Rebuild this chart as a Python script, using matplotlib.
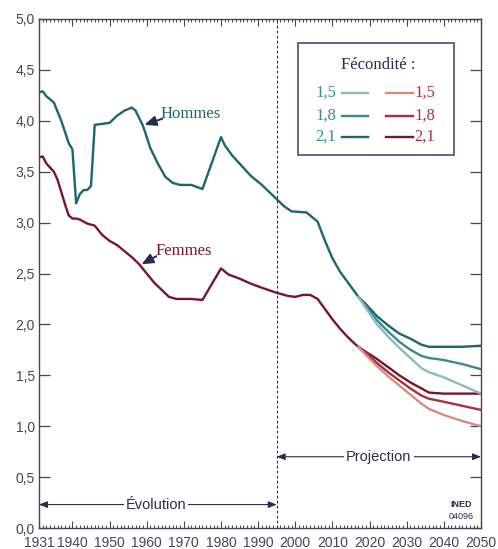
import matplotlib
matplotlib.use("Agg")
import matplotlib.pyplot as plt
from matplotlib.ticker import FixedLocator, MultipleLocator, FuncFormatter
from matplotlib.lines import Line2D
from matplotlib.patches import Rectangle

# Observed period (both sexes follow one path until the scenarios split)
years_h = [1931, 1932, 1933, 1935, 1937, 1939, 1940, 1941, 1942, 1943, 1944, 1945,
           1946, 1948, 1950, 1952, 1954, 1956, 1957, 1959, 1961, 1963, 1965, 1967,
           1969, 1972, 1975, 1980, 1981, 1983, 1986, 1988, 1991, 1995, 1997, 1999,
           2003, 2006, 2008, 2010, 2012, 2014, 2016, 2017]
hommes = [4.28, 4.29, 4.24, 4.18, 4.00, 3.78, 3.72, 3.19, 3.28, 3.32, 3.32, 3.36,
          3.96, 3.97, 3.98, 4.05, 4.10, 4.13, 4.10, 3.95, 3.73, 3.58, 3.45, 3.39,
          3.37, 3.37, 3.33, 3.84, 3.76, 3.66, 3.54, 3.46, 3.37, 3.23, 3.16, 3.11,
          3.10, 3.01, 2.82, 2.65, 2.52, 2.42, 2.32, 2.27]

years_f = [1931, 1932, 1933, 1935, 1936, 1937, 1938, 1939, 1940, 1941, 1942, 1944,
           1946, 1948, 1950, 1952, 1954, 1956, 1958, 1960, 1962, 1964, 1966, 1968,
           1972, 1975, 1980, 1982, 1985, 1988, 1991, 1995, 1998, 2000, 2002, 2004,
           2006, 2008, 2010, 2012, 2014, 2016, 2017]
femmes = [3.64, 3.65, 3.58, 3.50, 3.42, 3.30, 3.18, 3.07, 3.04, 3.04, 3.03, 2.99,
          2.97, 2.88, 2.82, 2.78, 2.72, 2.66, 2.59, 2.50, 2.41, 2.34, 2.27, 2.25,
          2.25, 2.24, 2.55, 2.49, 2.45, 2.40, 2.36, 2.31, 2.28, 2.27, 2.29, 2.29,
          2.25, 2.15, 2.05, 1.96, 1.88, 1.81, 1.78]

# Projection scenarios by fertility level
years_proj = [2017, 2019, 2022, 2025, 2028, 2031, 2034, 2036, 2040, 2045, 2050]
fecondite = ["1,5", "1,8", "2,1"]
hommes_proj = {
    "1,5": [2.27, 2.16, 2.00, 1.88, 1.77, 1.67, 1.57, 1.53, 1.48, 1.40, 1.32],
    "1,8": [2.27, 2.18, 2.04, 1.93, 1.83, 1.75, 1.69, 1.67, 1.65, 1.61, 1.56],
    "2,1": [2.27, 2.20, 2.08, 1.99, 1.91, 1.86, 1.80, 1.78, 1.78, 1.78, 1.79],
}
femmes_proj = {
    "1,5": [1.78, 1.70, 1.59, 1.49, 1.40, 1.31, 1.22, 1.17, 1.11, 1.05, 1.00],
    "1,8": [1.78, 1.72, 1.62, 1.53, 1.45, 1.37, 1.30, 1.27, 1.24, 1.20, 1.16],
    "2,1": [1.78, 1.73, 1.66, 1.58, 1.50, 1.43, 1.37, 1.33, 1.32, 1.32, 1.32],
}

xticks = [1931, 1940, 1950, 1960, 1970, 1980, 1990, 2000, 2010, 2020, 2030, 2040, 2050]

teal = {"1,5": "#8dbabd", "1,8": "#3a8a91", "2,1": "#1d6670"}
red = {"1,5": "#d38e7e", "1,8": "#a8313b", "2,1": "#7a1530"}
navy = "#2b2b52"
axis_col = "#44445f"

fig = plt.figure(figsize=(4.98, 5.49), dpi=100)
ax = fig.add_axes([39 / 498, 1 - 528 / 549, 442 / 498, 509 / 549])

ax.plot(years_h, hommes, color=teal["2,1"], lw=1.7, solid_joinstyle="round")
ax.plot(years_f, femmes, color=red["2,1"], lw=1.7, solid_joinstyle="round")
for k in ["2,1", "1,8", "1,5"]:
    ax.plot(years_proj, hommes_proj[k], color=teal[k], lw=1.7)
    ax.plot(years_proj, femmes_proj[k], color=red[k], lw=1.7)

ax.set_xlim(1931, 2050)
ax.set_ylim(0, 5)

# axes styling
for s in ax.spines.values():
    s.set_color(axis_col)
    s.set_linewidth(1.0)
ax.xaxis.set_major_locator(FixedLocator(xticks))
ax.xaxis.set_minor_locator(MultipleLocator(1))
ax.yaxis.set_major_locator(MultipleLocator(0.5))
ax.yaxis.set_major_formatter(FuncFormatter(lambda v, p: f"{v:.1f}".replace(".", ",")))
ax.tick_params(axis="x", which="major", direction="in", top=True, length=5, width=0.8,
               color=axis_col, labelcolor=axis_col, labelsize=10, pad=6)
ax.tick_params(axis="x", which="minor", direction="in", top=True, length=2.5, width=0.7,
               color=axis_col)
ax.tick_params(axis="y", which="major", direction="in", right=True, length=8, width=0.9,
               color=axis_col, labelcolor=axis_col, labelsize=10, pad=3)
for lab in ax.get_xticklabels() + ax.get_yticklabels():
    lab.set_family("Liberation Sans")

# boundary between observed and projected
ax.axvline(1995, color=navy, lw=0.8, ls=(0, (2.5, 2)))

# period arrows
arrow_kw = dict(arrowstyle="<|-|>,head_length=0.5,head_width=0.2", color=navy, lw=0.8,
                shrinkA=0, shrinkB=0)
ax.annotate("", xy=(1931, 0.23), xytext=(1995, 0.23), arrowprops=arrow_kw)
ax.annotate("", xy=(1995, 0.70), xytext=(2050, 0.70), arrowprops=arrow_kw)
ax.text(1962.5, 0.23, "Évolution", ha="center", va="center", fontsize=10.5,
        family="Liberation Sans", color=navy,
        bbox=dict(facecolor="white", edgecolor="none", pad=1.5))
ax.text(2022.5, 0.70, "Projection", ha="center", va="center", fontsize=10.5,
        family="Liberation Sans", color=navy,
        bbox=dict(facecolor="white", edgecolor="none", pad=1.5))

# curve labels
lab_arrow = dict(arrowstyle="-|>,head_length=0.7,head_width=0.3", color=navy, lw=1.4,
                 shrinkA=0, shrinkB=0)
ax.annotate("", xy=(1959.4, 3.96), xytext=(1964.2, 4.02), arrowprops=lab_arrow)
ax.text(1963.6, 4.07, "Hommes", ha="left", va="center", fontsize=12,
        family="Liberation Serif", color=teal["2,1"])
ax.annotate("", xy=(1958.6, 2.59), xytext=(1962.6, 2.67), arrowprops=lab_arrow)
ax.text(1962.4, 2.72, "Femmes", ha="left", va="center", fontsize=12,
        family="Liberation Serif", color=red["2,1"])

# legend box
ax.add_patch(Rectangle((0.5867, 0.7328), 0.3522, 0.2195, transform=ax.transAxes,
                       facecolor="white", edgecolor="#5c5c7a", lw=1.3, zorder=5))
ax.text(0.7676, 0.9096, "Fécondité :", transform=ax.transAxes, ha="center", va="center",
        fontsize=12, family="Liberation Serif", color=navy, zorder=6)
rows_y = [0.8552, 0.8100, 0.7688]
for k, yy in zip(fecondite, rows_y):
    ax.text(0.6719, yy, k, transform=ax.transAxes, ha="right", va="center",
            fontsize=12, family="Liberation Serif", color=teal["1,8"], zorder=6)
    ax.add_line(Line2D([0.6848, 0.7450], [yy, yy], transform=ax.transAxes,
                       color=teal[k], lw=1.7, zorder=6))
    ax.add_line(Line2D([0.7851, 0.8468], [yy, yy], transform=ax.transAxes,
                       color=red[k], lw=1.7, zorder=6))
    ax.text(0.8495, yy, k, transform=ax.transAxes, ha="left", va="center",
            fontsize=12, family="Liberation Serif", color=red["1,8"], zorder=6)

# source code
ax.text(0.955, 0.047, "INED", transform=ax.transAxes, ha="center", va="center",
        fontsize=6.5, family="Liberation Sans", fontweight="bold", color=navy)
ax.text(0.955, 0.022, "04096", transform=ax.transAxes, ha="center", va="center",
        fontsize=6.5, family="Liberation Sans", color=navy)

fig.savefig("out.png", dpi=100)
